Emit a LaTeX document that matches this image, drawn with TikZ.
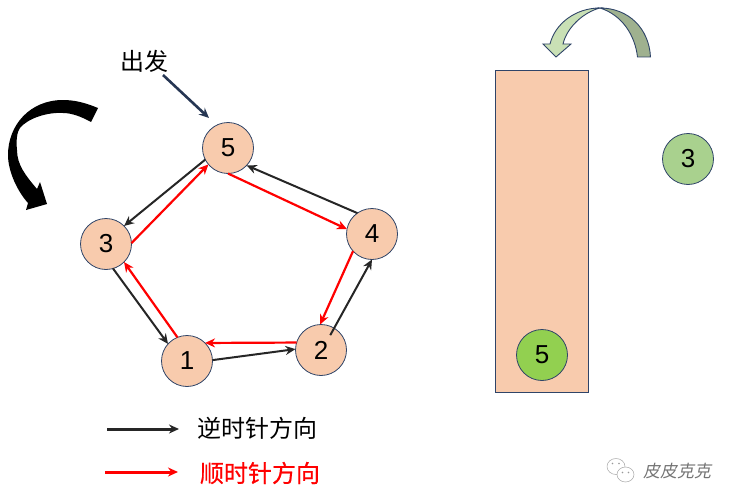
\documentclass[tikz,border=0pt]{standalone}
\usepackage{fontspec}
\setmainfont{Liberation Sans}
\newfontfamily\cjk{Noto Sans CJK SC}
\newfontfamily\cjkheavy[FakeBold=0.5]{Noto Sans CJK SC}
\newfontfamily\cjkslant[FakeSlant=0.2]{Noto Sans CJK SC}
\usetikzlibrary{arrows.meta}
\definecolor{peach}{HTML}{F8CBAD}
\definecolor{navy}{HTML}{2F4468}
\definecolor{blk}{HTML}{262626}
\definecolor{green5}{HTML}{92D050}
\definecolor{green3}{HTML}{A9D18E}
\definecolor{backarc}{HTML}{9FB18F}
\definecolor{frontarc}{HTML}{C9E0B5}
\begin{document}
\begin{tikzpicture}[x=1pt,y=-1pt,>={Stealth[length=10pt,width=9pt]},
  num/.style={draw=navy,line width=0.8pt,circle,minimum size=51pt,inner sep=0pt,outer sep=0pt,fill=peach,font=\fontsize{26}{26}\selectfont},
  ccw/.style={->,draw=blk,line width=2pt},
  cw/.style={->,draw=red,line width=2.2pt},
  lab/.style={inner sep=0pt,font=\fontsize{24}{24}\selectfont\cjk}]
  \useasboundingbox (0,0) rectangle (736,503);
  % ring
  \node[num](n5) at (228,148){5};\node[num](n3) at (106,244){3};\node[num](n4) at (372,234){4};
  \node[num](n1) at (187,361){1};\node[num](n2) at (321,350){2};
  \draw[ccw](n5.207)--(n3.45);\draw[ccw](n3.-74)--(n1.138);\draw[ccw](n1.2)--(n2.178);
  \draw[ccw,shorten <=-8pt](n2.59)--(n4.-90);\draw[ccw](n4.125)--(n5.-43);
  \draw[cw](n5.-90)--(n4.169);\draw[cw](n4.222)--(n2.92);\draw[cw](n2.163)--(n1.45);
  \draw[cw](n1.112)--(n3.-45);\draw[cw](n3.2)--(n5.220);
  % start label
  \node[lab](start) at (144,61){出发};
  \coordinate(starta) at (163,75);\coordinate(startb) at (209,118);
  \draw[->,draw=navy!80!black,line width=2.6pt](starta)--(startb);
  % big black arrow
  \fill[black](98,108) .. controls (86,103) and (75,100) .. (63,100) .. controls (30,100) and (8,125) .. (8,155)
    .. controls (8,172) and (18,192) .. (28,203)
    -- (26,210) -- (47,204) -- (40,182) -- (37,189)
    .. controls (26,176) and (17,165) .. (17,150) .. controls (16,140) and (17,132) .. (20,128)
    .. controls (28,118) and (48,112) .. (63,113) .. controls (72,113) and (82,117) .. (91,122) -- cycle;
  % stack
  \node[draw=navy,line width=0.9pt,fill=peach,minimum width=93pt,minimum height=322pt,inner sep=0pt](stack) at (541.5,231){};
  \node[num,fill=green5](top) at (542,355){5};
  \node[num,fill=green3](out) at (688,159){3};
  % curved arrow above the stack
  \draw[draw=navy,line width=0.9pt,fill=backarc](650.5,57) -- (637.5,57) .. controls (635,35) and (622,15) .. (600,8)
    .. controls (628,8) and (649,28) .. (650.5,57) -- cycle;
  \draw[draw=navy,line width=0.9pt,fill=frontarc](600,8) .. controls (575,8) and (555,24) .. (550,44) -- (543,44) -- (556,57)
    -- (571,44) -- (563,44) .. controls (567,27) and (584,12) .. (600,8) -- cycle;
  % legend
  \coordinate(ka) at (107,429);\coordinate(kb) at (179,429);\coordinate(ra) at (105,472);\coordinate(rb) at (178,472);
  \draw[ccw,line width=3pt](ka)--(kb);\draw[cw,line width=3pt](ra)--(rb);
  \node[lab](klab) at (257,428){逆时针方向};
  \node[lab,text=red,font=\fontsize{24}{24}\selectfont\cjkheavy](rlab) at (260,473){顺时针方向};
  % watermark
  \draw[gray!70,line width=0.5pt,fill=white](616,466.5) ellipse (9 and 8);
  \draw[gray!70,line width=0.5pt,fill=white](625.5,474.5) ellipse (8.5 and 7.5);
  \fill[gray!80](612.5,463.5) circle (0.9);\fill[gray!80](619,463.5) circle (0.9);
  \fill[gray!80](622.5,472.5) circle (0.8);\fill[gray!80](628.5,472.5) circle (0.8);
  \node[inner sep=0pt,text=gray!90!black,font=\fontsize{17}{17}\selectfont\cjkslant](mark) at (677,471){皮皮克克};
\end{tikzpicture}
\end{document}
